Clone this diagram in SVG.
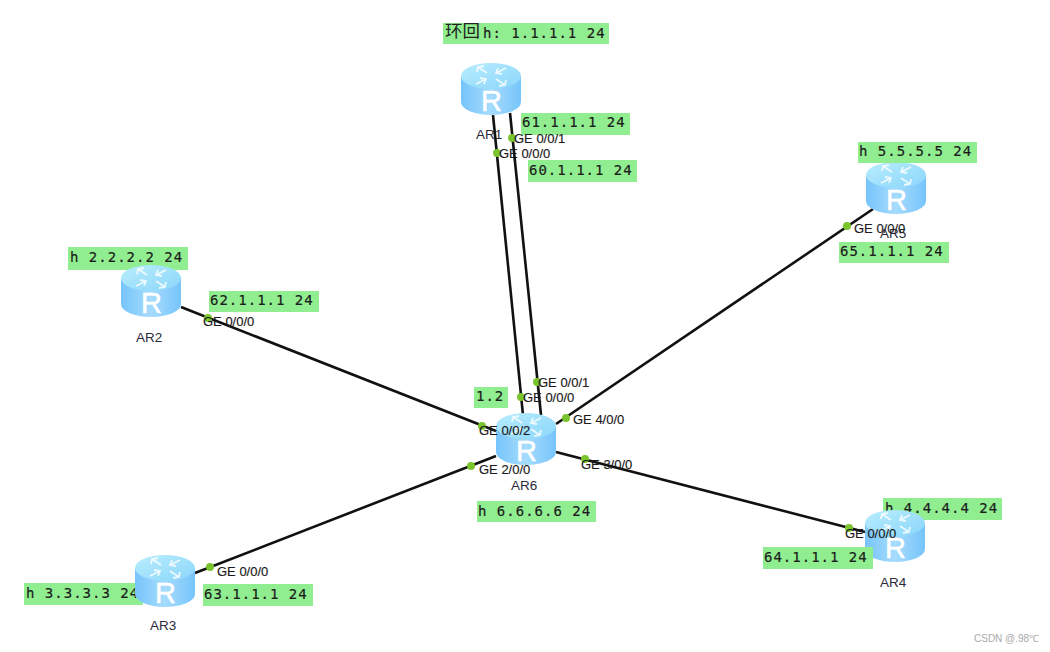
<svg xmlns="http://www.w3.org/2000/svg" width="1050" height="652" viewBox="0 0 1050 652">
<style>
.bg{fill:#90ee90}
.ip{font:14px "DejaVu Sans Mono",monospace;letter-spacing:1px;fill:#1c1c1c;stroke:#1c1c1c;stroke-width:.2}
.cn{font:17.5px "Noto Sans CJK SC","DejaVu Sans",sans-serif;fill:#222}
.port{font:13px "Liberation Sans",Arial,sans-serif;fill:#1a1a1a;stroke:#1a1a1a;stroke-width:.15}
.name{font:13.5px "Liberation Sans",Arial,sans-serif;fill:#2a2a3a}
.wm{font:10px "Liberation Sans",Arial,sans-serif;fill:#aaa}
.link{stroke:#111;stroke-width:2.6;fill:none}
.dot{fill:#7ac52e}
.r{font:29px "Liberation Sans",Arial,sans-serif;fill:#fff;stroke:#fff;stroke-width:.5}
.arr{stroke:#fff;stroke-width:1.8;fill:none;opacity:.8}
</style>
<defs>
<linearGradient id="body" x1="0" x2="1" y1="0" y2="0">
<stop offset="0" stop-color="#76c4fb"/><stop offset=".5" stop-color="#a6dcfd"/><stop offset="1" stop-color="#76c4fb"/>
</linearGradient>
<linearGradient id="top" x1="0" x2="1" y1="0" y2="1">
<stop offset="0" stop-color="#b8edfd"/><stop offset="1" stop-color="#8bd6fb"/>
</linearGradient>
<symbol id="router" width="60" height="52" viewBox="0 0 60 52">
<path d="M0 13V39A30 13 0 0 0 60 39V13Z" fill="url(#body)"/>
<ellipse cx="30" cy="13" rx="30" ry="13" fill="url(#top)"/>
<path class="arr" d="M26 10L17 4M16 9L17 4L23 3M45 5L35 10M41 11L35 10L37 5M35 16L44 22M45 17L44 22L38 23M15 21L25 16M19 15L25 16L23 21"/>
<text class="r" x="20" y="48">R</text>
</symbol>
</defs>
<g id="connectors">
<line class="link" x1="493" y1="115" x2="523" y2="415"/>
<line class="link" x1="510" y1="113" x2="541" y2="415"/>
<line class="link" x1="181" y1="307" x2="496" y2="431"/>
<line class="link" x1="195" y1="573" x2="496" y2="456"/>
<line class="link" x1="556" y1="452" x2="865" y2="532"/>
<line class="link" x1="556" y1="424" x2="873" y2="209"/>
</g>
<g id="AR4-loopback"><rect class="bg" x="883" y="498" width="119" height="22"/><text class="ip" x="885" y="513">h 4.4.4.4 24</text></g>
<g id="AR3-loopback"><rect class="bg" x="24" y="583" width="119" height="22"/><text class="ip" x="26" y="598">h 3.3.3.3 24</text></g>
<g id="AR2-loopback"><rect class="bg" x="68" y="247" width="120" height="23"/><text class="ip" x="70" y="262">h 2.2.2.2 24</text></g>
<g id="AR1"><use href="#router" x="461" y="63" width="60" height="52"/><text class="name" x="476" y="139">AR1</text></g>
<g id="AR2"><use href="#router" x="121" y="265" width="60" height="52"/><text class="name" x="136" y="342">AR2</text></g>
<g id="AR3"><use href="#router" x="135" y="555" width="60" height="52"/><text class="name" x="150" y="630">AR3</text></g>
<g id="AR4"><use href="#router" x="865" y="510" width="60" height="52"/><text class="name" x="880" y="587">AR4</text></g>
<g id="AR5"><use href="#router" x="866" y="162" width="60" height="52"/><text class="name" x="880" y="238">AR5</text></g>
<g id="AR6"><use href="#router" x="496" y="413" width="60" height="52"/><text class="name" x="511" y="490">AR6</text></g>
<g id="labels">
<rect class="bg" x="443" y="23" width="166" height="21"/><text class="cn" x="445" y="37">环回</text><text class="ip" x="483" y="38">h: 1.1.1.1 24</text>
<rect class="bg" x="521" y="113" width="109" height="22"/><text class="ip" x="522" y="127">61.1.1.1 24</text>
<rect class="bg" x="528" y="160" width="109" height="22"/><text class="ip" x="529" y="175">60.1.1.1 24</text>
<rect class="bg" x="474" y="387" width="34" height="21"/><text class="ip" x="476" y="401">1.2</text>
<rect class="bg" x="477" y="501" width="119" height="21"/><text class="ip" x="478" y="516">h 6.6.6.6 24</text>
<rect class="bg" x="858" y="142" width="119" height="21"/><text class="ip" x="859" y="156">h 5.5.5.5 24</text>
<rect class="bg" x="839" y="242" width="110" height="21"/><text class="ip" x="840" y="256">65.1.1.1 24</text>
<rect class="bg" x="763" y="547" width="110" height="22"/><text class="ip" x="764" y="562">64.1.1.1 24</text>
<rect class="bg" x="203" y="584" width="110" height="22"/><text class="ip" x="204" y="599">63.1.1.1 24</text>
<rect class="bg" x="209" y="291" width="110" height="21"/><text class="ip" x="210" y="305">62.1.1.1 24</text>
</g>
<g id="ports">
<circle class="dot" cx="512" cy="138" r="4"/><text class="port" x="514" y="143">GE 0/0/1</text>
<circle class="dot" cx="497" cy="153" r="4"/><text class="port" x="499" y="158">GE 0/0/0</text>
<circle class="dot" cx="537" cy="382" r="4"/><text class="port" x="538" y="387">GE 0/0/1</text>
<circle class="dot" cx="521" cy="397" r="4"/><text class="port" x="523" y="402">GE 0/0/0</text>
<circle class="dot" cx="566" cy="418" r="4"/><text class="port" x="573" y="424">GE 4/0/0</text>
<circle class="dot" cx="482" cy="426" r="4"/><text class="port" x="479" y="435">GE 0/0/2</text>
<circle class="dot" cx="471" cy="466" r="4"/><text class="port" x="479" y="474">GE 2/0/0</text>
<circle class="dot" cx="585" cy="459" r="4"/><text class="port" x="581" y="469">GE 3/0/0</text>
<circle class="dot" cx="847" cy="226" r="4"/><text class="port" x="854" y="233">GE 0/0/0</text>
<circle class="dot" cx="849" cy="528" r="4"/><text class="port" x="845" y="538">GE 0/0/0</text>
<circle class="dot" cx="210" cy="567" r="4"/><text class="port" x="217" y="576">GE 0/0/0</text>
<circle class="dot" cx="208" cy="318" r="4"/><text class="port" x="203" y="326">GE 0/0/0</text>
</g>
<text class="wm" x="974" y="642">CSDN @.98℃</text>
</svg>
